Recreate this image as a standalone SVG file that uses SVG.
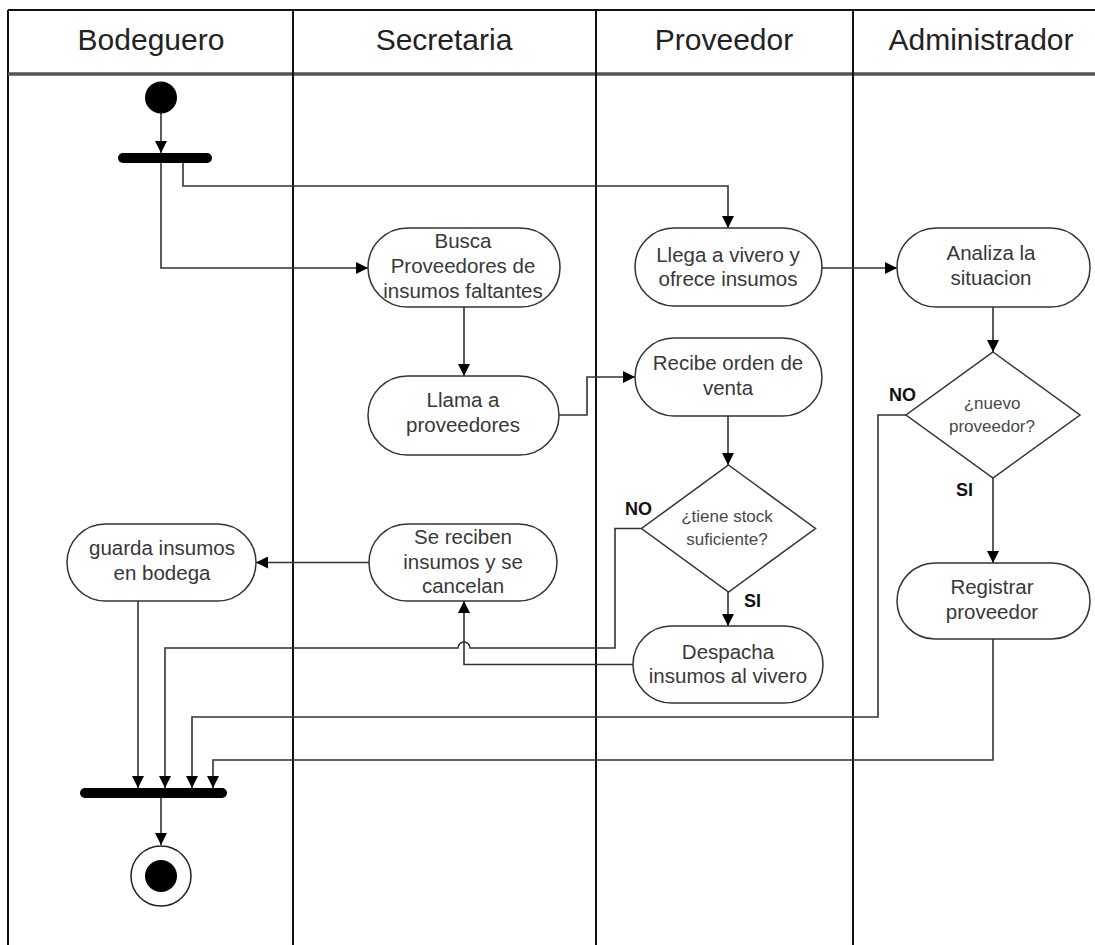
<svg xmlns="http://www.w3.org/2000/svg" width="1095" height="945" viewBox="0 0 1095 945">
  <style>
    .lane { stroke: #111; stroke-width: 2; fill: none; }
    .head { font-family: "Liberation Sans", Arial, sans-serif; font-size: 30px; fill: #222; text-anchor: middle; }
    .act { fill: #fff; stroke: #333; stroke-width: 1.5; }
    .txt { font-family: "Liberation Sans", Arial, sans-serif; font-size: 20.5px; fill: #383838; text-anchor: middle; }
    .dtxt { font-family: "Liberation Sans", Arial, sans-serif; font-size: 17px; fill: #484848; text-anchor: middle; }
    .lbl { font-family: "Liberation Sans", Arial, sans-serif; font-size: 18px; font-weight: bold; fill: #111; }
    .flow { fill: none; stroke: #333; stroke-width: 1.6; }
    .arr { marker-end: url(#head); }
  </style>
  <defs>
    <marker id="head" markerUnits="userSpaceOnUse" markerWidth="12" markerHeight="12" refX="12" refY="6" orient="auto">
      <path d="M0,0 L12,6 L0,12 z" fill="#000"/>
    </marker>
  </defs>

  <rect x="0" y="0" width="1095" height="945" fill="#fff"/>

  <!-- swimlane frame -->
  <g id="lanes">
    <line class="lane" x1="8" y1="10" x2="1095" y2="10" stroke-width="2.5"/>
    <line class="lane" x1="8" y1="10" x2="8" y2="945"/>
    <line x1="8" y1="74" x2="1095" y2="74" stroke="#555" stroke-width="3.5"/>
    <line class="lane" x1="293" y1="10" x2="293" y2="945"/>
    <line class="lane" x1="596" y1="10" x2="596" y2="945"/>
    <line class="lane" x1="853" y1="10" x2="853" y2="945"/>
    <text class="head" x="151" y="50">Bodeguero</text>
    <text class="head" x="444" y="50">Secretaria</text>
    <text class="head" x="724" y="50">Proveedor</text>
    <text class="head" x="981" y="50">Administrador</text>
  </g>

  <!-- connectors -->
  <g id="connectors">
    <path class="flow arr" d="M161,113 L161,153"/>
    <path class="flow arr" d="M161,163 L161,268 L368,268"/>
    <path class="flow arr" d="M183,163 L183,186 L728,186 L728,228"/>
    <path class="flow arr" d="M464,307 L464,376"/>
    <path class="flow arr" d="M559,415 L587,415 L587,377 L635,377"/>
    <path class="flow arr" d="M822,268 L897,268"/>
    <path class="flow arr" d="M728,416 L728,465"/>
    <path class="flow arr" d="M993,307 L993,352"/>
    <path class="flow arr" d="M728,592 L728,626"/>
    <path class="flow arr" d="M641.5,528.5 L615,528.5 L615,648 L470,648 A6,6 0 0 0 458,648 L165,648 L165,788"/>
    <path class="flow arr" d="M633,664.5 L464,664.5 L464,601"/>
    <path class="flow arr" d="M369,562.5 L256,562.5"/>
    <path class="flow arr" d="M138,601 L138,788"/>
    <path class="flow arr" d="M906,415 L878,415 L878,717 L192,717 L192,788"/>
    <path class="flow arr" d="M993,478 L993,563"/>
    <path class="flow arr" d="M993,639 L993,760 L213,760 L213,788"/>
    <path class="flow arr" d="M161,798 L161,845"/>
  </g>

  <!-- start / fork / join / end -->
  <g id="start"><circle cx="161" cy="97.5" r="16" fill="#000"/></g>
  <g id="fork"><rect x="118" y="153" width="94" height="10" rx="5" fill="#000"/></g>
  <g id="join"><rect x="80" y="788" width="147" height="10" rx="5" fill="#000"/></g>
  <g id="end">
    <circle cx="161" cy="876" r="30" fill="#fff" stroke="#222" stroke-width="1.5"/>
    <circle cx="161" cy="876" r="16" fill="#000"/>
  </g>

  <!-- activities -->
  <g id="busca">
    <rect class="act" x="368" y="228" width="192" height="79" rx="39.5"/>
    <text class="txt" x="463" y="248">Busca</text>
    <text class="txt" x="463" y="273">Proveedores de</text>
    <text class="txt" x="463" y="297.5">insumos faltantes</text>
  </g>
  <g id="llama">
    <rect class="act" x="368" y="376" width="191" height="79" rx="39.5"/>
    <text class="txt" x="463" y="407">Llama a</text>
    <text class="txt" x="463" y="432">proveedores</text>
  </g>
  <g id="llega">
    <rect class="act" x="635" y="228" width="187" height="78" rx="39"/>
    <text class="txt" x="728" y="262">Llega a vivero y</text>
    <text class="txt" x="728" y="286">ofrece insumos</text>
  </g>
  <g id="recibe">
    <rect class="act" x="635" y="338" width="187" height="78" rx="39"/>
    <text class="txt" x="728" y="370">Recibe orden de</text>
    <text class="txt" x="728" y="394.5">venta</text>
  </g>
  <g id="analiza">
    <rect class="act" x="897" y="228" width="193" height="79" rx="39.5"/>
    <text class="txt" x="991" y="260">Analiza la</text>
    <text class="txt" x="991" y="285">situacion</text>
  </g>
  <g id="registrar">
    <rect class="act" x="897" y="563" width="193" height="76" rx="38"/>
    <text class="txt" x="992" y="593.5">Registrar</text>
    <text class="txt" x="992" y="618.5">proveedor</text>
  </g>
  <g id="despacha">
    <rect class="act" x="633" y="626" width="190" height="77" rx="38.5"/>
    <text class="txt" x="728" y="658.5">Despacha</text>
    <text class="txt" x="728" y="683">insumos al vivero</text>
  </g>
  <g id="sereciben">
    <rect class="act" x="369" y="524" width="188" height="77" rx="38.5"/>
    <text class="txt" x="463" y="543.5">Se reciben</text>
    <text class="txt" x="463" y="568.5">insumos y se</text>
    <text class="txt" x="463" y="593">cancelan</text>
  </g>
  <g id="guarda">
    <rect class="act" x="67" y="524" width="189" height="77" rx="38.5"/>
    <text class="txt" x="162" y="555">guarda insumos</text>
    <text class="txt" x="162" y="580">en bodega</text>
  </g>

  <!-- decisions -->
  <g id="tienestock">
    <polygon class="act" points="728.5,465 815.5,528.5 728.5,592 641.5,528.5"/>
    <text class="dtxt" x="727" y="522">¿tiene stock</text>
    <text class="dtxt" x="727" y="545">suficiente?</text>
    <text class="lbl" x="625" y="515">NO</text>
    <text class="lbl" x="744" y="607">SI</text>
  </g>
  <g id="nuevoproveedor">
    <polygon class="act" points="993,352 1080,415 993,478 906,415"/>
    <text class="dtxt" x="992" y="409">¿nuevo</text>
    <text class="dtxt" x="992" y="432">proveedor?</text>
    <text class="lbl" x="889" y="401">NO</text>
    <text class="lbl" x="956" y="496">SI</text>
  </g>
</svg>
